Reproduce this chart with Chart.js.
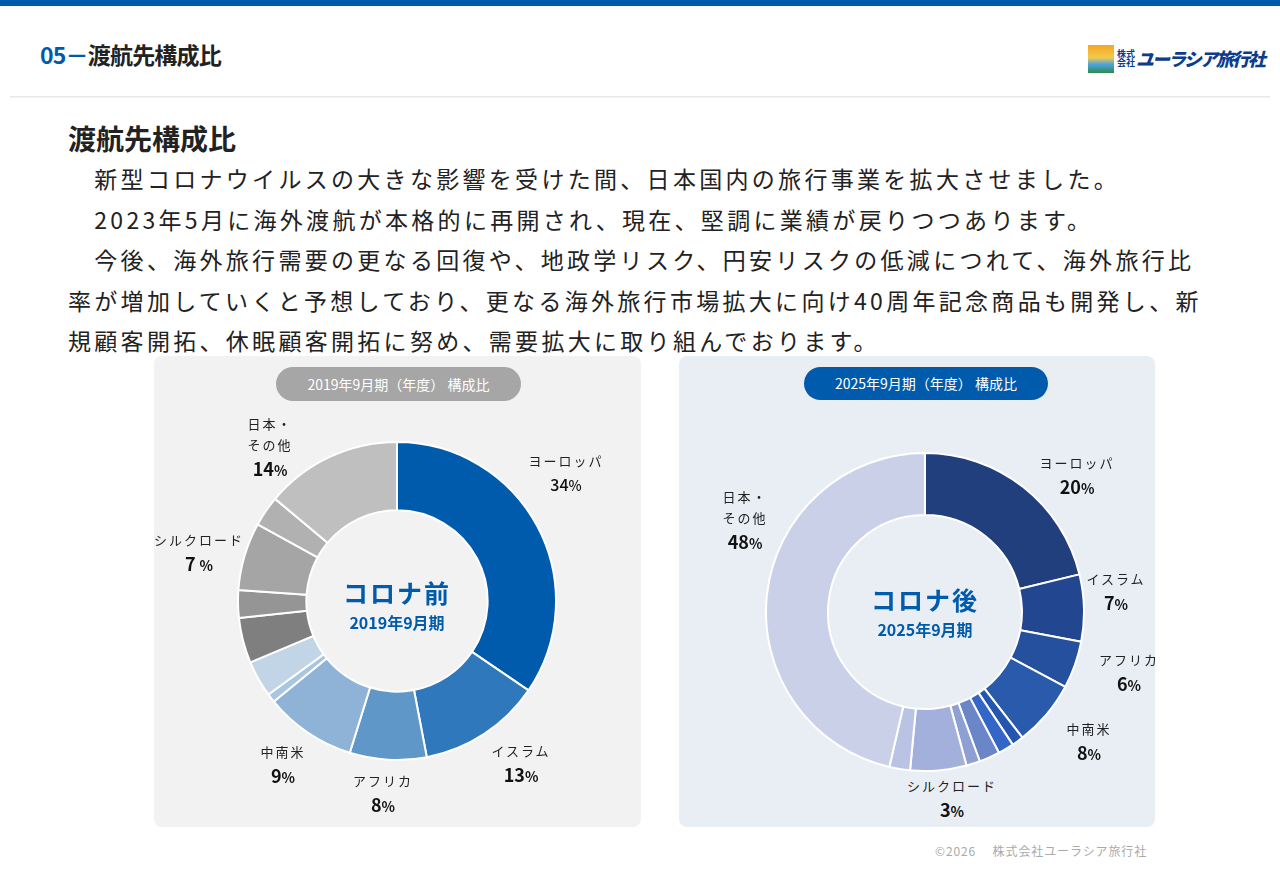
<!DOCTYPE html>
<html lang="ja">
<head>
<meta charset="utf-8">
<script src="https://cdn.jsdelivr.net/npm/chart.js@4.4.1/dist/chart.umd.min.js"></script>
<style>
  body { margin:0; width:1280px; height:886px; background:#fff; position:relative; overflow:hidden;
         font-family:"Noto Sans CJK JP","Noto Sans",sans-serif; color:#222; }
  .abs { position:absolute; }
  #topbar { left:0; top:0; width:1280px; height:6px; background:#005bac; }
  #hdr { left:40px; top:37px; font-size:23px; font-weight:bold; letter-spacing:-0.8px; }
  #hdr .b { color:#005bac; }
  #shadow { left:10px; top:96px; width:1260px; height:2px; background:linear-gradient(#e4e4e4,#f8f8f8); }
  #logo { left:1088px; top:44px; width:172px; height:30px; white-space:nowrap; }
  #logo .pic { position:absolute; left:0; top:1px; width:26px; height:28px;
               background:linear-gradient(#f6a623 0%,#f2c94c 45%,#4aa3df 70%,#2c8a4a 100%); }
  #logo .t1 { position:absolute; left:29px; top:5px; font-size:9px; line-height:9px; font-weight:bold; color:#0d3c8c; width:18px; white-space:normal; }
  #logo .t2 { position:absolute; left:48px; top:1px; font-size:18px; line-height:26px; font-weight:900; font-style:italic; color:#0d3c8c; letter-spacing:-2px; }
  #h2 { left:68px; top:118px; font-size:28px; font-weight:bold; color:#222; }
  #para { left:68px; top:158px; font-size:23px; line-height:40.5px; letter-spacing:3.3px; color:#222; }
  #para div { white-space:nowrap; }
  .panel { top:356px; height:471px; border-radius:8px; }
  #pL { left:154px; width:487px; background:#f2f2f2; }
  #pR { left:679px; width:476px; background:#e9eef5; }
  .pill { height:34px; line-height:34px; border-radius:17px; color:#fff; font-size:14px; text-align:center; }
  #pillL { left:276px; top:367px; width:245px; background:#a6a6a6; }
  #pillR { left:804px; top:367px; width:244px; height:33px; line-height:33px; background:#005bac; }
  canvas { position:absolute; }
  .ctr { text-align:center; color:#005bac; font-weight:bold; width:200px; }
  .ctr .big { font-size:25px; line-height:36px; height:36px; letter-spacing:2px; }
  .ctr .sm { font-size:16px; line-height:24px; height:24px; }
  .lab { text-align:center; width:120px; transform:translateX(-50%); }
  .lab .n { font-size:13px; line-height:21px; letter-spacing:2px; color:#222; }
  .lab .v { font-size:18px; line-height:26px; font-weight:bold; color:#111; }
  .lab .v.nb { font-weight:500; font-size:16px; }
  .lab .v small { font-size:14px; }
  #foot { left:935px; top:842px; font-size:12px; color:#aaa; letter-spacing:0.9px; }
</style>
</head>
<body>
<div id="topbar" class="abs"></div>
<div id="hdr" class="abs"><span class="b">05－</span>渡航先構成比</div>
<div id="logo" class="abs"><div class="pic"></div><div class="t1">株式会社</div><div class="t2">ユーラシア旅行社</div></div>
<div id="shadow" class="abs"></div>

<div id="h2" class="abs">渡航先構成比</div>
<div id="para" class="abs">
  <div>　新型コロナウイルスの大きな影響を受けた間、日本国内の旅行事業を拡大させました。</div>
  <div>　2023年5月に海外渡航が本格的に再開され、現在、堅調に業績が戻りつつあります。</div>
  <div>　今後、海外旅行需要の更なる回復や、地政学リスク、円安リスクの低減につれて、海外旅行比</div>
  <div>率が増加していくと予想しており、更なる海外旅行市場拡大に向け40周年記念商品も開発し、新</div>
  <div>規顧客開拓、休眠顧客開拓に努め、需要拡大に取り組んでおります。</div>
</div>

<div id="pL" class="abs panel"></div>
<div id="pR" class="abs panel"></div>
<div id="pillL" class="abs pill">2019年9月期（年度） 構成比</div>
<div id="pillR" class="abs pill">2025年9月期（年度） 構成比</div>

<canvas id="chartL" width="320" height="320" style="left:237px;top:441px;width:320px;height:320px"></canvas>
<canvas id="chartR" width="320" height="320" style="left:765px;top:452px;width:320px;height:320px"></canvas>

<div class="abs ctr" style="left:297px;top:574px"><div class="big">コロナ前</div><div class="sm">2019年9月期</div></div>
<div class="abs ctr" style="left:825px;top:581px"><div class="big">コロナ後</div><div class="sm">2025年9月期</div></div>

<div id="labels"></div>
<div id="foot" class="abs">©2026　 株式会社ユーラシア旅行社</div>

<script>
// 2019年9月期 (slices clockwise from top)
var regions2019 = ['ヨーロッパ', 'イスラム', 'アフリカ', '中南米', 'その他A', 'その他B', 'その他C', 'その他D', 'シルクロード', 'その他E', '日本・その他'];
var share2019 = [34.5, 12.5, 7.8, 9.3, 0.9, 3.7, 4.6, 2.8, 6.9, 3.1, 13.9];
var colors2019 = ['#005bac', '#2e78bb', '#6097c9', '#8fb3d7', '#a9c6e1', '#c2d5e6', '#7f7f7f', '#959595', '#a5a5a5', '#b1b1b1', '#bfbfbf'];

// 2025年9月期
var regions2025 = ['ヨーロッパ', 'イスラム', 'アフリカ', '中南米', 'その他A', 'その他B', 'その他C', 'その他D', 'シルクロード', 'その他E', '日本・その他'];
var share2025 = [21.2, 6.8, 4.8, 6.7, 1.2, 1.6, 2.1, 1.4, 5.7, 2.1, 46.4];
var colors2025 = ['#213f7d', '#22468f', '#25509e', '#2a5aab', '#2455b0', '#3366c6', '#6b85c9', '#8e9fd4', '#a3b0db', '#bac3e3', '#cad0e8'];

// printed labels [name, percent text, x, y, bold]
var labels2019 = [
  ['ヨーロッパ', '34', 566, 450, false],
  ['日本・<br>その他', '14', 270, 413, true],
  ['シルクロード', '7 ', 199, 529, true],
  ['中南米', '9', 283, 741, true],
  ['アフリカ', '8', 383, 770, true],
  ['イスラム', '13', 521, 740, true]
];
var labels2025 = [
  ['ヨーロッパ', '20', 1077, 452, true],
  ['日本・<br>その他', '48', 745, 486, true],
  ['イスラム', '7', 1116, 568, true],
  ['アフリカ', '6', 1129, 649, true],
  ['中南米', '8', 1089, 718, true],
  ['シルクロード', '3', 952, 775, true]
];

function donut(id, cats, vals, cols, cut) {
  new Chart(document.getElementById(id), {
    type: 'doughnut',
    data: {
      labels: cats,
      datasets: [{ data: vals, backgroundColor: cols, borderColor: '#ffffff', borderWidth: 2 }]
    },
    options: {
      responsive: false,
      animation: false,
      cutout: cut,
      plugins: { legend: { display: false }, tooltip: { enabled: false } }
    }
  });
}
donut('chartL', regions2019, share2019, colors2019, '57%');
donut('chartR', regions2025, share2025, colors2025, '61%');

var box = document.getElementById('labels');
labels2019.concat(labels2025).forEach(function(l) {
  var d = document.createElement('div');
  d.className = 'abs lab';
  d.style.left = l[2] + 'px';
  d.style.top = l[3] + 'px';
  d.innerHTML = '<div class="n">' + l[0] + '</div><div class="v' + (l[4] ? '' : ' nb') + '">' + l[1] + '<small>%</small></div>';
  box.appendChild(d);
});
</script>
</body>
</html>
